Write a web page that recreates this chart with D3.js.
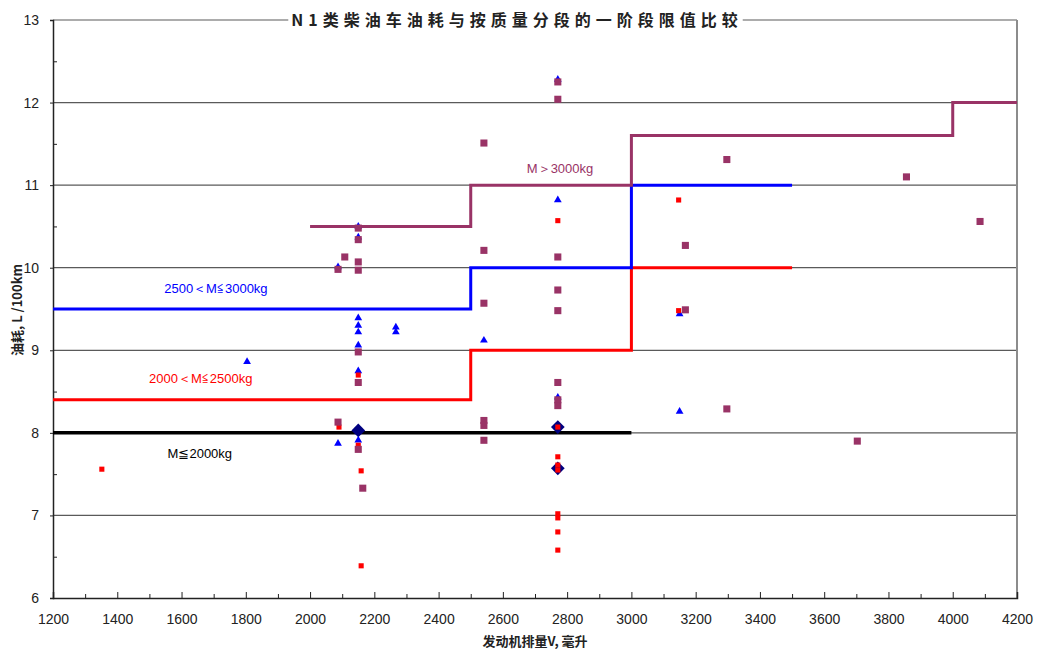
<!DOCTYPE html>
<html>
<head>
<meta charset="utf-8">
<script src="https://cdn.jsdelivr.net/npm/d3@7"></script>
<style>
  body { margin: 0; background: #fff; }
  svg { display: block; }
</style>
</head>
<body>
<svg id="chart"></svg>
<script>
// limit curves, [displacement, L/100km], stepped
const limitLow = [[1200, 8], [3000, 8]];
const limitMid = [[1200, 8.4], [2500, 9], [3000, 10], [3500, 10]];
const limitHigh = [[1200, 9.5], [2500, 10], [3000, 11], [3500, 11]];
const limitHeavy = [[2000, 10.5], [2500, 11], [3000, 11.6], [4000, 12], [4200, 12]];

const limitNames = ['M≦2000kg', '2000＜M≦2500kg', '2500＜M≦3000kg', 'M＞3000kg'];
const limitLabelPos = [[1657, 7.7], [1660, 8.6], [1707, 9.69], [2778, 11.15]];

// measured vehicles
const redPts = [
  [2150, 8.70], [2090, 8.07], [2150, 7.85], [2159, 7.54], [2159, 6.39], [1352, 7.56],
  [2771, 10.57], [2771, 8.07], [2771, 7.71], [2771, 7.61], [2771, 7.55], [2771, 7.02],
  [2771, 6.97], [2771, 6.80], [2771, 6.58], [3147, 10.82], [3147, 9.48]
];
const purplePts = [
  [2150, 10.48], [2150, 10.34], [2108, 10.13], [2087, 9.98], [2150, 10.07], [2150, 9.97],
  [2150, 8.98], [2150, 8.61], [2087, 8.13], [2150, 7.80], [2164, 7.33],
  [2771, 12.25], [2771, 12.04], [2771, 10.13], [2771, 9.73], [2771, 9.48], [2771, 8.61],
  [2771, 8.40], [2771, 8.33],
  [2541, 11.51], [2541, 10.21], [2541, 9.57], [2541, 8.15], [2541, 8.09], [2541, 7.91],
  [3297, 11.31], [3168, 10.27], [3168, 9.49], [3297, 8.29], [3703, 7.90], [3856, 11.10],
  [4085, 10.56]
];
const bluePts = [
  [2150, 10.50], [2150, 10.37], [2087, 10.01], [2150, 9.39], [2150, 9.30], [2150, 9.22],
  [2267, 9.28], [2267, 9.22], [2150, 9.06], [2150, 8.75], [2087, 7.87], [2150, 7.91],
  [1804, 8.86], [2771, 12.28], [2771, 10.82], [2771, 8.43], [2541, 9.12], [3150, 9.44],
  [3150, 8.26]
];
const diamondPts = [[2150, 8.03], [2771, 8.07], [2771, 7.57]];

const xTicks = d3.range(1200, 4201, 200);
const xMinor = d3.range(1300, 4200, 200);
const yTicks = d3.range(6, 14, 1);
const yMinor = d3.range(6.5, 13, 1);

const width = 1040, height = 652;
const mLeft = 53, mRight = 1017, mTop = 20, mBottom = 598;

const svg = d3.select('#chart')
  .attr('width', width)
  .attr('height', height)
  .style('font-family', '"Liberation Sans", Arial, sans-serif');

const x = d3.scaleLinear().domain([1200, 4200]).range([mLeft, mRight]);
const y = d3.scaleLinear().domain([6, 13]).range([mBottom, mTop]);

// grid
svg.append('g')
  .selectAll('line')
  .data(yTicks.filter(d => d > 6))
  .enter()
  .append('line')
  .attr('x1', mLeft).attr('x2', mRight)
  .attr('y1', d => y(d)).attr('y2', d => y(d))
  .attr('stroke', '#5a5a5a')
  .attr('stroke-width', 1.2);

// right border
svg.append('line')
  .attr('x1', mRight).attr('x2', mRight)
  .attr('y1', mTop).attr('y2', mBottom)
  .attr('stroke', '#8c8c8c')
  .attr('stroke-width', 2);

// axes
svg.append('g')
  .attr('transform', `translate(0,${mBottom})`)
  .call(d3.axisBottom(x).tickValues(xTicks).tickFormat(d3.format('d')).tickSize(-6).tickPadding(16));
svg.append('g')
  .attr('transform', `translate(0,${mBottom})`)
  .call(d3.axisBottom(x).tickValues(xMinor).tickSize(-4).tickFormat(''))
  .call(g => g.select('.domain').remove());

svg.append('g')
  .attr('transform', `translate(${mLeft},0)`)
  .call(d3.axisLeft(y).tickValues(yTicks).tickFormat(d3.format('d')).tickSize(3).tickPadding(11));
svg.append('g')
  .attr('transform', `translate(${mLeft},0)`)
  .call(d3.axisLeft(y).tickValues(yMinor).tickSize(-4).tickFormat(''))
  .call(g => g.select('.domain').remove());

svg.selectAll('.domain').attr('stroke', '#222').attr('stroke-width', 1.5);
svg.selectAll('.tick line').attr('stroke', '#222');
svg.selectAll('.tick text')
  .attr('font-size', 14)
  .attr('fill', '#222')
  .style('font-family', '"Liberation Sans", Arial, sans-serif');

// step limit lines
const step = d3.line()
  .x(d => x(d[0]))
  .y(d => y(d[1]))
  .curve(d3.curveStepAfter);

const limits = [
  { data: limitLow, color: '#000000', w: 3.5 },
  { data: limitMid, color: '#ff0000', w: 3 },
  { data: limitHigh, color: '#0000ff', w: 3 },
  { data: limitHeavy, color: '#993366', w: 3 }
];

svg.append('g')
  .selectAll('path')
  .data(limits)
  .enter()
  .append('path')
  .attr('d', d => step(d.data))
  .attr('fill', 'none')
  .attr('stroke', d => d.color)
  .attr('stroke-width', d => d.w);

svg.append('g')
  .selectAll('text')
  .data(limitNames)
  .enter()
  .append('text')
  .attr('x', (d, i) => x(limitLabelPos[i][0]))
  .attr('y', (d, i) => y(limitLabelPos[i][1]))
  .attr('text-anchor', 'middle')
  .attr('font-size', 13)
  .attr('fill', (d, i) => limits[i].color)
  .text(d => d);

// points
const drawPts = (data, type, size, color) => {
  svg.append('g')
    .selectAll('path')
    .data(data)
    .enter()
    .append('path')
    .attr('transform', d => `translate(${x(d[0])},${y(d[1])})`)
    .attr('d', d3.symbol().type(type).size(size))
    .attr('fill', color);
};

drawPts(diamondPts, d3.symbolDiamond2 || d3.symbolDiamond, 120, '#000080');
drawPts(bluePts, d3.symbolTriangle, 26, '#0000ff');
drawPts(redPts, d3.symbolSquare, 26, '#ff0000');
drawPts(purplePts, d3.symbolSquare, 50, '#993366');

// title over the top border
const title = svg.append('text')
  .attr('x', 517)
  .attr('y', 26)
  .attr('text-anchor', 'middle')
  .attr('font-size', 16)
  .attr('font-weight', 'bold')
  .attr('letter-spacing', 5)
  .style('font-family', '"Noto Sans CJK SC", sans-serif')
  .attr('fill', '#222')
  .text('N1类柴油车油耗与按质量分段的一阶段限值比较');
const bb = title.node().getBBox();
svg.insert('rect', () => title.node())
  .attr('x', bb.x - 3).attr('y', mTop - 3)
  .attr('width', bb.width + 3).attr('height', 6)
  .attr('fill', '#fff');

// axis titles
svg.append('text')
  .attr('x', 535)
  .attr('y', 646)
  .attr('text-anchor', 'middle')
  .attr('font-size', 13)
  .attr('font-weight', 'bold')
  .style('font-family', '"Noto Sans CJK SC", sans-serif')
  .attr('fill', '#222')
  .text('发动机排量V, 毫升');

svg.append('text')
  .attr('transform', 'translate(22,310) rotate(-90)')
  .attr('text-anchor', 'middle')
  .attr('font-size', 13)
  .attr('font-weight', 'bold')
  .style('font-family', '"Noto Sans CJK SC", sans-serif')
  .attr('fill', '#222')
  .text('油耗, L /100km');
</script>
</body>
</html>
